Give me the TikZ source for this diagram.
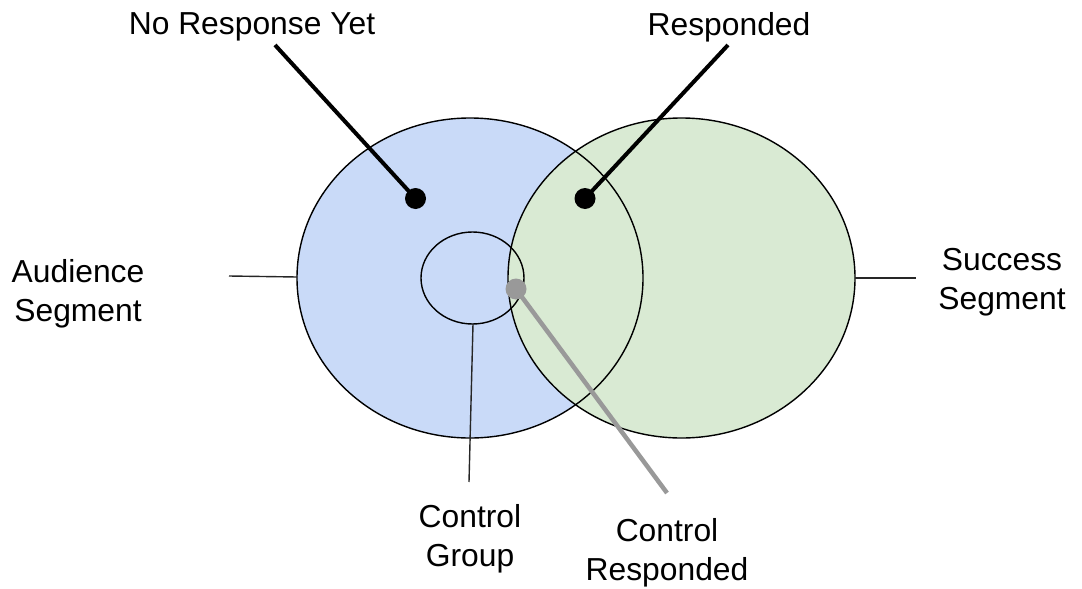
\documentclass[tikz,border=0pt]{standalone}
\usepackage{fontspec}
\setmainfont{Liberation Sans}
\definecolor{blueset}{HTML}{C9DAF8}
\definecolor{greenset}{HTML}{D9EAD3}
\definecolor{greyline}{HTML}{999999}
\begin{document}
\begin{tikzpicture}[x=1pt,y=-1pt,
  lbl/.style={align=center,font=\fontsize{31.8}{39}\selectfont,inner sep=0pt},
  outline/.style={draw=black,line width=1.4pt},
  thinline/.style={draw=black!85,line width=1.4pt},
  pointer/.style={draw=black,line width=4pt},
  greypointer/.style={draw=greyline,line width=4.5pt}]
\useasboundingbox (0,0) rectangle (1082,589);
% fills
\fill[blueset] (470,278) ellipse [x radius=173, y radius=160];
\fill[greenset] (681.5,278) ellipse [x radius=173.5, y radius=160];
% outlines
\draw[outline] (470,278) ellipse [x radius=173, y radius=160];
\draw[outline] (681.5,278) ellipse [x radius=173.5, y radius=160];
\draw[outline] (472.5,278) ellipse [x radius=51.5, y radius=46];
% anchor coordinates
\coordinate (audR) at (297,277);
\coordinate (audL) at (229,276);
\coordinate (sucL) at (855,278);
\coordinate (sucR) at (916,278);
\coordinate (cgTop) at (473,324);
\coordinate (cgBot) at (469,482);
\coordinate (nrEnd) at (275,45);
\coordinate (rEnd) at (728,45);
\coordinate (crEnd) at (667,493);
% dots
\node[circle,fill=black,minimum size=21pt,inner sep=0pt] (nrDot) at (415.5,198.5) {};
\node[circle,fill=black,minimum size=21pt,inner sep=0pt] (rDot) at (585,198.5) {};
\node[circle,fill=greyline,minimum size=21pt,inner sep=0pt] (crDot) at (516,289) {};
% connectors
\draw[thinline] (audL) -- (audR);
\draw[thinline] (sucL) -- (sucR);
\draw[thinline] (cgTop) -- (cgBot);
\draw[pointer] (nrEnd) -- (nrDot.center);
\draw[pointer] (rEnd) -- (rDot.center);
\draw[greypointer] (crDot.center) -- (crEnd);
% labels
\node[lbl] (nr) at (252,27) {No Response Yet};
\node[lbl] (resp) at (729,27) {Responded};
\node[lbl] (aud) at (78,294) {Audience\\Segment};
\node[lbl] (suc) at (1002,282) {Success\\Segment};
\node[lbl] (cg) at (470,539) {Control\\Group};
\node[lbl] (cr) at (667,553) {Control\\Responded};
\end{tikzpicture}
\end{document}
